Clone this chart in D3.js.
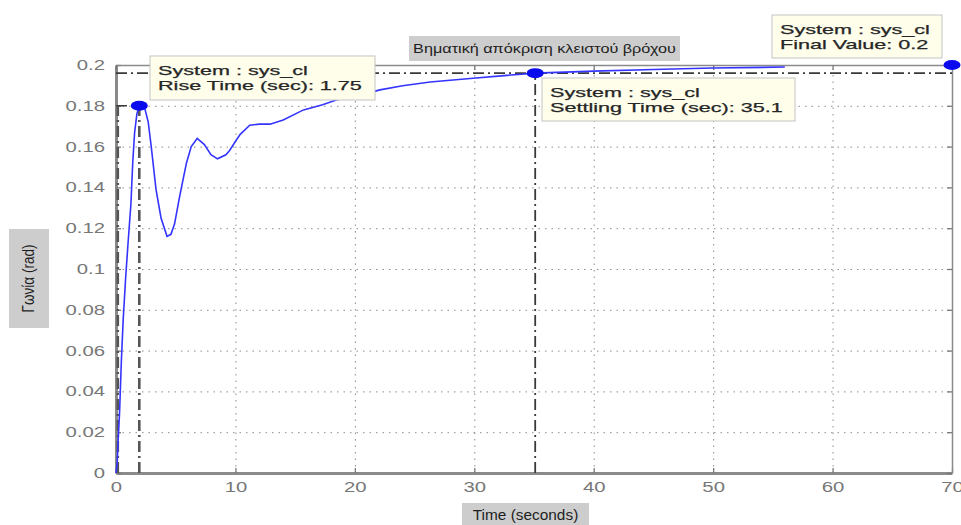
<!DOCTYPE html>
<html>
<head>
<meta charset="utf-8">
<script src="https://cdn.jsdelivr.net/npm/d3@7"></script>
<style>
  body { margin: 0; background: #fff; }
  svg { display: block; font-family: "Liberation Sans", Arial, sans-serif; }
</style>
</head>
<body>
<svg id="chart" width="961" height="525"></svg>
<script>
// step response of the closed loop
const TIME = [0, 0.1, 0.17, 0.3, 0.45, 0.6, 0.8, 1.0, 1.25, 1.4, 1.56, 1.75, 1.95, 2.15, 2.4, 2.7,
  2.95, 3.35, 3.77, 4.27, 4.6, 4.9, 5.33, 5.9, 6.3, 6.8, 7.4, 7.95, 8.5, 9.2, 9.5, 10.05, 10.4,
  11.2, 12.0, 12.9, 14.0, 15.7, 17.3, 18.5, 20, 22.1, 24, 26.3, 29.9, 32.5, 35.1, 40, 45, 50, 56];
const ANGLE = [0, 0.005, 0.015, 0.03, 0.055, 0.075, 0.095, 0.112, 0.132, 0.152, 0.167, 0.176, 0.18, 0.181, 0.179, 0.172,
  0.16, 0.139, 0.125, 0.116, 0.117, 0.122, 0.1356, 0.152, 0.16, 0.164, 0.161, 0.156, 0.154, 0.156, 0.158, 0.163, 0.166,
  0.1705, 0.171, 0.171, 0.173, 0.178, 0.1805, 0.183, 0.1845, 0.1878, 0.1898, 0.1917, 0.1935, 0.1948, 0.196, 0.197, 0.1978, 0.1985, 0.199];

const X_TICKS = [0, 10, 20, 30, 40, 50, 60, 70];
const Y_TICKS = [0, 0.02, 0.04, 0.06, 0.08, 0.1, 0.12, 0.14, 0.16, 0.18, 0.2];

// characteristics shown with markers
const RISE_TIMES = [0.15, 1.95];
const RISE_LEVEL = 0.18;
const RISE_TIME = 1.75;
const SETTLING_TIME = 35.1;
const SETTLING_LEVEL = 0.196;
const FINAL_TIME = 70;
const FINAL_VALUE = 0.2;

const TITLE = "Βηματική απόκριση κλειστού βρόχου";
const X_LABEL = "Time (seconds)";
const Y_LABEL = "Γωνία (rad)";
const SYSTEM = "System : sys_cl";

// layout
const margin = { top: 65, right: 9, bottom: 52, left: 116 };
const width = 961, height = 525;
const STRETCH = 1.66;   // the source picture is stretched sideways

const svg = d3.select("#chart");

const x = d3.scaleLinear()
  .domain([0, d3.max(X_TICKS)])
  .range([margin.left, width - margin.right]);

const y = d3.scaleLinear()
  .domain([0, d3.max(Y_TICKS)])
  .range([height - margin.bottom, margin.top]);

const stretch = (sel, k) => sel.each(function () {
  const w = this.getComputedTextLength();
  d3.select(this).attr("textLength", w * k).attr("lengthAdjust", "spacingAndGlyphs");
});

// dotted grid
const gridX = svg.append("g")
  .attr("transform", `translate(0,${y(0)})`)
  .call(d3.axisBottom(x).tickValues(X_TICKS.slice(1, -1)).tickSize(-(y(0) - y(0.2))).tickFormat(""));
const gridY = svg.append("g")
  .attr("transform", `translate(${x(0)},0)`)
  .call(d3.axisLeft(y).tickValues(Y_TICKS.slice(1, -1)).tickSize(-(x(70) - x(0))).tickFormat(""));
[gridX, gridY].forEach(g => {
  g.select(".domain").remove();
  g.selectAll("line").attr("stroke", "#8c8c8c").attr("stroke-dasharray", "1.5,5");
});

// axes box
const fmt = d3.format("~g");
const xAxis = svg.append("g")
  .attr("transform", `translate(0,${y(0)})`)
  .call(d3.axisBottom(x).tickValues(X_TICKS).tickSizeInner(-5).tickSizeOuter(0).tickPadding(9).tickFormat(fmt));
const yAxis = svg.append("g")
  .attr("transform", `translate(${x(0)},0)`)
  .call(d3.axisLeft(y).tickValues(Y_TICKS).tickSizeInner(-5).tickSizeOuter(0).tickPadding(11).tickFormat(fmt));
const topAxis = svg.append("g")
  .attr("transform", `translate(0,${y(0.2)})`)
  .call(d3.axisTop(x).tickValues(X_TICKS).tickSizeInner(-5).tickSizeOuter(0).tickFormat(""));
const rightAxis = svg.append("g")
  .attr("transform", `translate(${x(70)},0)`)
  .call(d3.axisRight(y).tickValues(Y_TICKS).tickSizeInner(-5).tickSizeOuter(0).tickFormat(""));

[xAxis, yAxis, topAxis, rightAxis].forEach(g => {
  g.selectAll("line").attr("stroke", "#7a7a7a").attr("stroke-width", 1.3);
  g.select(".domain").attr("stroke", "#8a8a8a").attr("stroke-width", 1.5);
});
[xAxis, yAxis].forEach(g => {
  g.select(".domain").attr("stroke-width", 3);
  g.selectAll("text").attr("font-size", 14).attr("fill", "#777")
    .attr("font-family", "\"Liberation Sans\", Arial, sans-serif");
  stretch(g.selectAll("text"), 1.45);
});

// dash-dot characteristic lines
const ref = svg.append("g")
  .attr("fill", "none")
  .attr("stroke", "#3a3a3a")
  .attr("stroke-dasharray", "11,4,2,4");

ref.append("line")
  .attr("x1", x(0)).attr("x2", x(FINAL_TIME))
  .attr("y1", y(SETTLING_LEVEL)).attr("y2", y(SETTLING_LEVEL))
  .attr("stroke-width", 1.6);

ref.append("line")
  .attr("x1", x(0)).attr("x2", x(RISE_TIMES[1]))
  .attr("y1", y(RISE_LEVEL)).attr("y2", y(RISE_LEVEL))
  .attr("stroke-width", 1.6);

ref.selectAll("line.rise")
  .data(RISE_TIMES)
  .join("line")
  .attr("class", "rise")
  .attr("x1", d => x(d)).attr("x2", d => x(d))
  .attr("y1", y(0)).attr("y2", y(RISE_LEVEL))
  .attr("stroke", "#555")
  .attr("stroke-width", 2.6);

ref.append("line")
  .attr("x1", x(SETTLING_TIME)).attr("x2", x(SETTLING_TIME))
  .attr("y1", y(0)).attr("y2", y(SETTLING_LEVEL))
  .attr("stroke-width", 1.8);

// response curve
svg.append("path")
  .datum(d3.zip(TIME, ANGLE))
  .attr("fill", "none")
  .attr("stroke", "#3434ff")
  .attr("stroke-width", 1.6)
  .attr("d", d3.line().x(d => x(d[0])).y(d => y(d[1])));

// markers
const markers = [[RISE_TIMES[1], RISE_LEVEL], [SETTLING_TIME, SETTLING_LEVEL], [FINAL_TIME, FINAL_VALUE]];
svg.selectAll("ellipse.marker")
  .data(markers)
  .join("ellipse")
  .attr("class", "marker")
  .attr("cx", d => x(d[0]))
  .attr("cy", d => y(d[1]))
  .attr("rx", 8.5)
  .attr("ry", 5)
  .attr("fill", "#0a0aee");

// data tips
const tips = [
  { x: 150, y: 56, w: 225, h: 44, lines: [SYSTEM, `Rise Time (sec): ${RISE_TIME}`] },
  { x: 542, y: 78, w: 253, h: 43, lines: [SYSTEM, `Settling Time (sec): ${SETTLING_TIME}`] },
  { x: 772, y: 15, w: 170, h: 43, lines: [SYSTEM, `Final Value: ${FINAL_VALUE}`] }
];
const tip = svg.selectAll("g.tip")
  .data(tips)
  .join("g")
  .attr("class", "tip")
  .attr("transform", d => `translate(${d.x},${d.y})`);
tip.append("rect")
  .attr("width", d => d.w)
  .attr("height", d => d.h)
  .attr("fill", "#fefeeb")
  .attr("stroke", "#c4c4c4");
tip.selectAll("text")
  .data(d => d.lines)
  .join("text")
  .attr("x", 8)
  .attr("y", (d, i) => 19 + i * 15)
  .attr("font-size", 13)
  .attr("fill", "#262626")
  .attr("stroke", "#262626")
  .attr("stroke-width", 0.25)
  .text(d => d);
stretch(tip.selectAll("text"), STRETCH);

// title and axis labels in grey boxes
const title = svg.append("g").attr("transform", "translate(409,36)");
title.append("rect").attr("width", 271).attr("height", 25).attr("fill", "#cdcdcd");
title.append("text")
  .attr("x", 135.5).attr("y", 17)
  .attr("text-anchor", "middle")
  .attr("font-size", 12)
  .attr("fill", "#1e1e1e")
  .text(TITLE)
  .call(s => stretch(s, 1.35));

const xl = svg.append("g").attr("transform", "translate(462,503)");
xl.append("rect").attr("width", 127).attr("height", 26).attr("fill", "#cdcdcd");
xl.append("text")
  .attr("x", 63.5).attr("y", 17)
  .attr("text-anchor", "middle")
  .attr("font-size", 14)
  .attr("fill", "#1e1e1e")
  .text(X_LABEL)
  .call(s => stretch(s, 1.1));

const yl = svg.append("g").attr("transform", "translate(9,229)");
yl.append("rect").attr("width", 40).attr("height", 99).attr("fill", "#cdcdcd");
yl.append("text")
  .attr("transform", "translate(20,49.5) rotate(-90) scale(1,1.2)")
  .attr("text-anchor", "middle")
  .attr("dominant-baseline", "central")
  .attr("font-size", 13.5)
  .attr("fill", "#1e1e1e")
  .text(Y_LABEL);
</script>
</body>
</html>
